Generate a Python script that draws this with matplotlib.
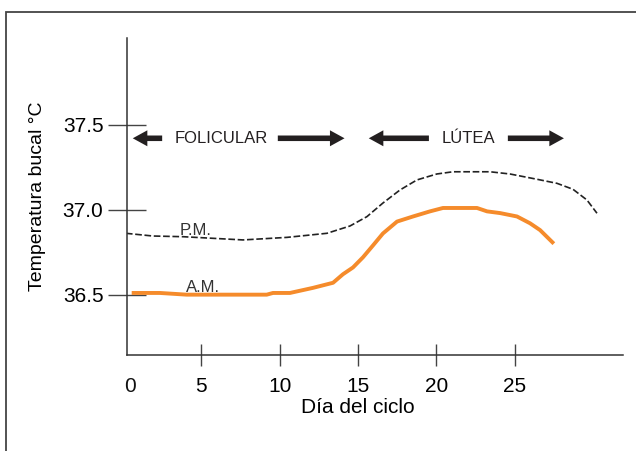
import matplotlib
matplotlib.use("Agg")
import matplotlib.pyplot as plt
from matplotlib.patches import Rectangle, FancyArrowPatch

# datos (dia del ciclo, temperatura bucal)
am_dia = [0.57, 2.37, 4.08, 9.18, 9.58, 10.66, 12.13, 13.41, 14.04, 14.68, 15.32,
          15.96, 16.59, 17.49, 18.51, 19.59, 20.42, 22.59, 23.23, 24.06, 25.14,
          25.97, 26.61, 27.05, 27.49]
am_temp = [36.51, 36.51, 36.50, 36.50, 36.51, 36.51, 36.54, 36.57, 36.62, 36.66, 36.72,
           36.79, 36.86, 36.93, 36.96, 36.99, 37.01, 37.01, 36.99, 36.98, 36.96,
           36.92, 36.88, 36.84, 36.80]

pm_dia = [0.20, 1.92, 3.84, 7.67, 10.47, 13.02, 14.49, 15.57, 16.59, 17.68, 18.76,
          20.03, 21.06, 23.42, 24.69, 26.41, 27.69, 28.71, 29.60, 30.24]
pm_temp = [36.861, 36.845, 36.841, 36.822, 36.837, 36.861, 36.904, 36.959, 37.039,
           37.116, 37.175, 37.21, 37.223, 37.223, 37.21, 37.179, 37.155, 37.12,
           37.057, 36.979]

x_ticks = [5, 10, 15, 20, 25]
y_ticks = [36.5, 37.0, 37.5]
y_labels = ['36.5', '37.0', '37.5']

plt.rcParams['font.family'] = ['Liberation Sans', 'DejaVu Sans']

fig = plt.figure(figsize=(6.36, 4.51), dpi=100)
# marco exterior
fig.patches.append(Rectangle((6 / 636, -0.2), 1.5, 1 - 12 / 451 + 0.2,
                             transform=fig.transFigure, fill=False,
                             edgecolor='#444444', linewidth=1.3))

ax = fig.add_axes([127 / 636, 1 - 355 / 451, (623 - 127) / 636, (355 - 38) / 451])
ax.set_xlim(0.27, 31.9)
ax.set_ylim(36.145, 38.01)

ax.plot(am_dia, am_temp, color='#f58b2b', linewidth=2.8, solid_capstyle='butt')
ax.plot(pm_dia, pm_temp, color='#222222', linewidth=1.2, dashes=(4, 1.6))

for s in ['top', 'right']:
    ax.spines[s].set_visible(False)
for s in ['left', 'bottom']:
    ax.spines[s].set_color('#333333')
    ax.spines[s].set_linewidth(1.1)

ax.set_xticks(x_ticks)
ax.set_xticklabels([str(t) for t in x_ticks], fontsize=15)
ax.set_yticks(y_ticks)
ax.set_yticklabels(y_labels, fontsize=15)
ax.tick_params(axis='x', direction='inout', length=16, width=1.0, color='#444444', pad=8)
ax.tick_params(axis='y', direction='inout', length=28, width=1.0, color='#444444', pad=3)
ax.text(0.45, -0.07, '0', transform=ax.get_xaxis_transform(), ha='center', va='top',
        fontsize=15, color='#111111')

ax.set_xlabel('Día del ciclo', fontsize=15)
ax.xaxis.set_label_coords(0.466, -0.135)
ax.set_ylabel('Temperatura bucal °C', fontsize=14, labelpad=12)

# etiquetas de las curvas
ax.text(3.65, 36.851, 'P.M.', fontsize=12, color='#333333', va='baseline')
ax.text(4.03, 36.516, 'A.M.', fontsize=12, color='#333333', va='baseline')

# flechas de fases
y_fase = 37.42
flechas = [(2.69, 0.46), (9.71, 14.32), (19.70, 15.51), (24.38, 28.31)]
for x0, x1 in flechas:
    ax.add_patch(FancyArrowPatch((x0, y_fase), (x1, y_fase),
                                 arrowstyle='simple,head_width=11.5,head_length=10.5,tail_width=4',
                                 mutation_scale=1, color='#231f20', linewidth=0))
ax.text(6.29, y_fase, 'FOLICULAR', fontsize=12, color='#231f20', ha='center', va='center')
ax.text(22.05, y_fase, 'LÚTEA', fontsize=12, color='#231f20', ha='center', va='center')

fig.savefig('out.png', dpi=100)
